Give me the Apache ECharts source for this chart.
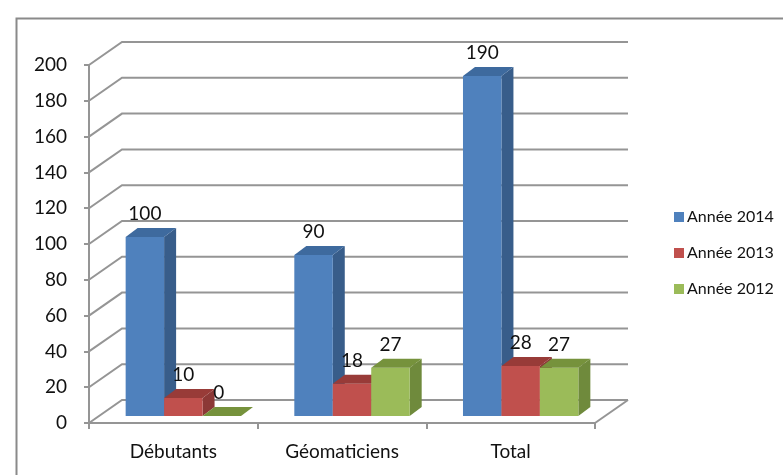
<!DOCTYPE html>
<html><head><meta charset="utf-8">
<script src="https://cdn.jsdelivr.net/npm/echarts@6/dist/echarts.min.js"></script>
<style>html,body{margin:0;padding:0;background:#fff}#c{width:783px;height:475px}</style>
</head><body><div id="c"></div>
<script>
const categories = ['Débutants', 'Géomaticiens', 'Total'];
const seriesNames = ['Année 2014', 'Année 2013', 'Année 2012'];
const values2014 = [100, 90, 190];
const values2013 = [10, 18, 28];
const values2012 = [0, 27, 27];
const yTickValues = [0, 20, 40, 60, 80, 100, 120, 140, 160, 180, 200];

const FONT = 'Lato';
const WALL_DX = 33, WALL_DY = -23;   // depth of the back wall
const BAR_DX = 10, BAR_DY = -7;      // bars sit a little behind the front plane
const BAR_DEPTH_X = 12, BAR_DEPTH_Y = -9;
const GRID_COLOR = '#959595';
const palettes = [
  { front: '#4F81BD', side: '#385D8A', top: '#3E6A9E' },
  { front: '#C0504D', side: '#8C3836', top: '#983B38' },
  { front: '#9BBB59', side: '#6F8A3C', top: '#76923C' }
];

function wallItem(params, api) {
  const cs = params.coordSys;
  const v = api.value(1);
  const y = api.coord([0, v])[1];
  const x0 = cs.x, x1 = cs.x + cs.width;
  const children = [{
    type: 'polyline',
    shape: { points: [[x0, y], [x0 + WALL_DX, y + WALL_DY], [x1 + WALL_DX, y + WALL_DY]] },
    style: { stroke: GRID_COLOR, lineWidth: 2, fill: null }
  }];
  if (v === 0) {
    children.push({
      type: 'line',
      shape: { x1: x1, y1: y, x2: x1 + WALL_DX, y2: y + WALL_DY },
      style: { stroke: GRID_COLOR, lineWidth: 2 }
    });
  }
  return { type: 'group', children: children };
}

function barRenderer(sIdx) {
  const pal = palettes[sIdx];
  return function (params, api) {
    const ci = api.value(0), v = api.value(1);
    const c = api.coord([ci, 0]);
    const t = api.coord([ci, v]);
    const band = api.size([1, 0])[0];
    const bw = band * 0.228;
    const left = c[0] + BAR_DX - 1.5 * bw + sIdx * bw;
    const right = left + bw;
    const base = c[1] + BAR_DY;
    const top = t[1] + BAR_DY;
    const dx = BAR_DEPTH_X, dy = BAR_DEPTH_Y;
    const children = [];
    if (base - top > 0.5) {
      children.push({ type: 'polygon', shape: { points: [[right, top], [right + dx, top + dy], [right + dx, base + dy], [right, base]] }, style: { fill: pal.side } });
      children.push({ type: 'rect', shape: { x: left, y: top, width: bw, height: base - top }, style: { fill: pal.front } });
    }
    children.push({ type: 'polygon', shape: { points: [[left, top], [left + dx, top + dy], [right + dx, top + dy], [right, top]] }, style: { fill: pal.top } });
    children.push({ type: 'text', x: (left + right) / 2 - (v === 0 ? 3 : 0), y: top - 23,
      style: { text: String(v), fill: '#111', font: '19px ' + FONT, align: 'center', verticalAlign: 'middle' } });
    return { type: 'group', children: children };
  };
}

const seriesData = [values2014, values2013, values2012];
const series = [{
  type: 'custom', name: 'wall', silent: true, clip: false, z: 1,
  renderItem: wallItem,
  data: yTickValues.map(v => [0, v]),
  encode: { x: 0, y: 1 }
}];
seriesData.forEach((vals, i) => {
  series.push({
    type: 'custom', name: seriesNames[i], clip: false, z: 5 + i,
    itemStyle: { color: palettes[i].front },
    renderItem: barRenderer(i),
    data: vals.map((v, k) => [k, v]),
    encode: { x: 0, y: 1 }
  });
});

const chart = echarts.init(document.getElementById('c'), null, { renderer: 'canvas' });
chart.setOption({
  animation: false,
  backgroundColor: '#fff',
  graphic: [{
    type: 'rect', left: 14, top: 16, shape: { width: 800, height: 500 },
    style: { fill: null, stroke: '#8a8a8a', lineWidth: 2 }, silent: true
  }],
  grid: { left: 89, top: 65, width: 506, height: 358 },
  legend: {
    orient: 'vertical', left: 669, top: 203,
    data: seriesNames.map(n => ({ name: n, icon: 'rect' })),
    itemWidth: 10, itemHeight: 10, itemGap: 18,
    textStyle: { fontFamily: FONT, fontSize: 16, color: '#111', lineHeight: 18, padding: [0, 0, 0, -2] }
  },
  xAxis: {
    type: 'category', data: categories,
    axisLine: { lineStyle: { color: GRID_COLOR, width: 2 } },
    axisTick: { show: true, length: 6, lineStyle: { color: GRID_COLOR, width: 2 } },
    axisLabel: { fontFamily: FONT, fontSize: 19, color: '#111', margin: 19 },
    splitLine: { show: false }
  },
  yAxis: {
    type: 'value', min: 0, max: 200, interval: 20,
    axisLine: { show: true, lineStyle: { color: GRID_COLOR, width: 2 } },
    axisTick: { show: true, length: 5, lineStyle: { color: GRID_COLOR, width: 2 } },
    axisLabel: { fontFamily: FONT, fontSize: 19, color: '#111', margin: 22 },
    splitLine: { show: false }
  },
  series: series
});
</script></body></html>
